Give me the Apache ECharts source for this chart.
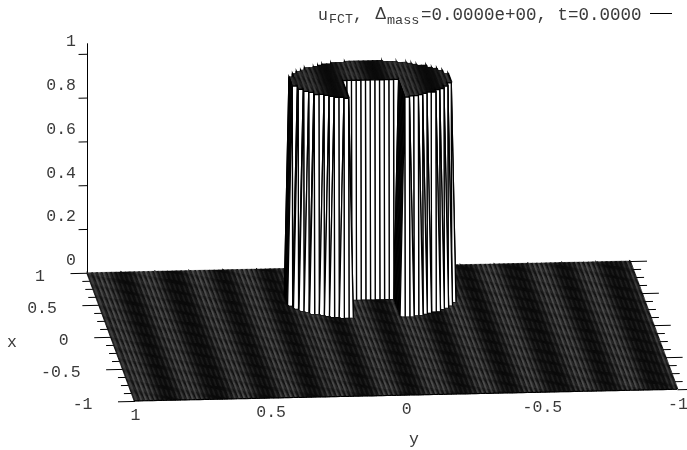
<!DOCTYPE html>
<html><head><meta charset="utf-8">
<style>html,body{margin:0;padding:0;background:#fff}#c{width:687px;height:450px}</style>
<script src="https://cdn.jsdelivr.net/npm/echarts@6/dist/echarts.min.js"></script>
</head><body><div id="c"></div>
<script>
// Grid: 116 cells per side
var gridCells = 116;
var zTicks = [0,0.2,0.4,0.6,0.8,1];
var zTickLabels = ['0','0.2','0.4','0.6','0.8','1'];
var xTicks = [1,0.5,0,-0.5,-1];
var xTickLabels = ['1','0.5','0','-0.5','-1'];
var yTicks = [1,0.5,0,-0.5,-1];
var yTickLabels = ['1','0.5','0','-0.5','-1'];
var minorTicks = [0.875,0.75,0.625,0.375,0.25,0.125,-0.125,-0.25,-0.375,-0.625,-0.75,-0.875];
// Cylinder (u=1): half chord along x, in cells, per y-station away from the axis
var cylinderHalfChord = [17,17,17,17,17,16,16,16,15,15,14,13,12,12,10,9,7,4];
var cylinderAxisRow = 29, cylinderAxisStation = 58;
// Slot (u=0): stations either side of the axis, open from the axis row to the front
var slotHalfStations = 5;
// Dark moire bands seen across the surface
var bandShades = ['#0a0a0a','#0e0e0e','#1c1c1c','#303030','#3c3c3c','#404040','#3c3c3c','#303030','#1c1c1c','#0e0e0e'];
var bandOriginY = 0.861, bandPeriodY = 0.18;

var h = 2/gridCells;
function P(x,y,z){return [382-23.75*x-271.25*y, 331-64.1*x+5.85*y-219*z];}
function U(i,j){
  var k=Math.abs(j-cylinderAxisStation), d=Math.abs(i-cylinderAxisRow);
  if(k>=cylinderHalfChord.length || d>cylinderHalfChord[k]) return 0;
  if(k<=slotHalfStations && i>cylinderAxisRow) return 0;
  return 1;
}
function shade(yc){
  var ph=(yc-bandOriginY)/bandPeriodY; ph=ph-Math.floor(ph);
  return bandShades[Math.floor(ph*bandShades.length)%bandShades.length];
}
var cells=[];
for(var i=0;i<gridCells;i++)for(var j=0;j<gridCells;j++)cells.push([i,j]);
var segs=[];
function seg(a,b){segs.push(a.concat(b));}
seg([1,1,0],[1,1,1.05]);
zTicks.forEach(function(z){ if(z>0) seg([1,1,z],[1,1.033,z]); });
xTicks.forEach(function(x){ seg([x,1,0],[x,1.0627,0]); seg([x,-1,0],[x,-1.0627,0]);});
minorTicks.forEach(function(x){ seg([x,1,0],[x,1.03,0]); seg([x,-1,0],[x,-1.03,0]); seg([1,x,0],[1.025,x,0]);});
yTicks.forEach(function(y){seg([1,y,0],[1.025,y,0]);});
var FONT='"Liberation Mono"', TXT='#3a3a3a', FS='16.5px ';
var texts=[];
zTicks.forEach(function(z,k){texts.push([1,1,z,-11,-12,'right',zTickLabels[k]]);});
xTicks.forEach(function(x,k){texts.push([x,1,0,-42,4,'right',xTickLabels[k]]);});
yTicks.forEach(function(y,k){texts.push([-1,y,0,1,15,'center',yTickLabels[k]]);});
var chart=echarts.init(document.getElementById('c'),null,{renderer:'canvas'});
function t(x,y,s,font,al){return {type:'text',x:x,y:y,silent:true,style:{text:s,textAlign:al||'left',textVerticalAlign:'bottom',font:font,fill:TXT}};}
chart.setOption({
 animation:false,
 backgroundColor:'#fff',
 grid:{left:0,right:0,top:0,bottom:0},
 xAxis:{type:'value',min:0,max:687,show:false},
 yAxis:{type:'value',min:0,max:450,inverse:true,show:false},
 series:[
 {type:'custom',progressive:0,silent:true,data:segs,renderItem:function(p,api){
   var a=api.coord(P(api.value(0),api.value(1),api.value(2)));
   var b=api.coord(P(api.value(3),api.value(4),api.value(5)));
   return {type:'line',shape:{x1:a[0]+0.5,y1:a[1]+0.5,x2:b[0]+0.5,y2:b[1]+0.5},style:{stroke:'#000',lineWidth:1}};
 }},
 {type:'custom',progressive:0,silent:true,data:cells,renderItem:function(p,api){
   var i=api.value(0),j=api.value(1);
   var c=[[i,j],[i+1,j],[i+1,j+1],[i,j+1]];
   var u=c.map(function(q){return U(q[0],q[1]);});
   var pts=c.map(function(q,n){return api.coord(P(1-q[0]*h,-1+q[1]*h,u[n]));});
   var flat=u[0]===u[1]&&u[1]===u[2]&&u[2]===u[3];
   if(!flat){
     return {type:'polygon',shape:{points:pts},style:{fill:i<cylinderAxisRow?'#1a1a1a':'#fff',stroke:'#000',lineWidth:1.3}};
   }
   var col=shade(-1+(j+0.5)*h);
   var kids=[{type:'polygon',shape:{points:pts},style:{fill:col,stroke:col,lineWidth:0.5}},
     {type:'line',shape:{x1:pts[0][0],y1:pts[0][1],x2:pts[1][0],y2:pts[1][1]},style:{stroke:'#0c0c0c',lineWidth:2.6}}];
   if(j===gridCells-1) kids.push({type:'line',shape:{x1:pts[2][0],y1:pts[2][1],x2:pts[3][0],y2:pts[3][1]},style:{stroke:'#111',lineWidth:1.5}});
   if(i===gridCells-1) kids.push({type:'line',shape:{x1:pts[1][0],y1:pts[1][1],x2:pts[2][0],y2:pts[2][1]},style:{stroke:'#000',lineWidth:1.2}});
   return {type:'group',children:kids};
 }},
 {type:'custom',progressive:0,silent:true,data:texts.map(function(t,k){return k;}),renderItem:function(p,api){
   var e=texts[api.value(0)];
   var c=api.coord(P(e[0],e[1],e[2]));
   return {type:'text',x:c[0]+e[3],y:c[1]+e[4],style:{text:e[6],textAlign:e[5],textVerticalAlign:'middle',font:FS+FONT,fill:TXT}};
 }}
 ],
 graphic:[
  {type:'text',x:12,y:343,silent:true,style:{text:'x',textAlign:'center',textVerticalAlign:'middle',font:FS+FONT,fill:TXT}},
  {type:'text',x:414,y:440,silent:true,style:{text:'y',textAlign:'center',textVerticalAlign:'middle',font:FS+FONT,fill:TXT}},
  t(318,24,'u',FS+FONT),
  t(329,26,'FCT','13.3px '+FONT),
  t(353,24,',',FS+FONT),
  t(375,23,'Δ','17px "Liberation Sans"'),
  t(387,27,'mass','13.5px '+FONT),
  t(421,24,'=0.0000e+00, t=0.0000','17.5px '+FONT),
  {type:'line',silent:true,shape:{x1:650,y1:13.5,x2:672,y2:13.5},style:{stroke:'#000',lineWidth:1}}
 ]
});
</script></body></html>
